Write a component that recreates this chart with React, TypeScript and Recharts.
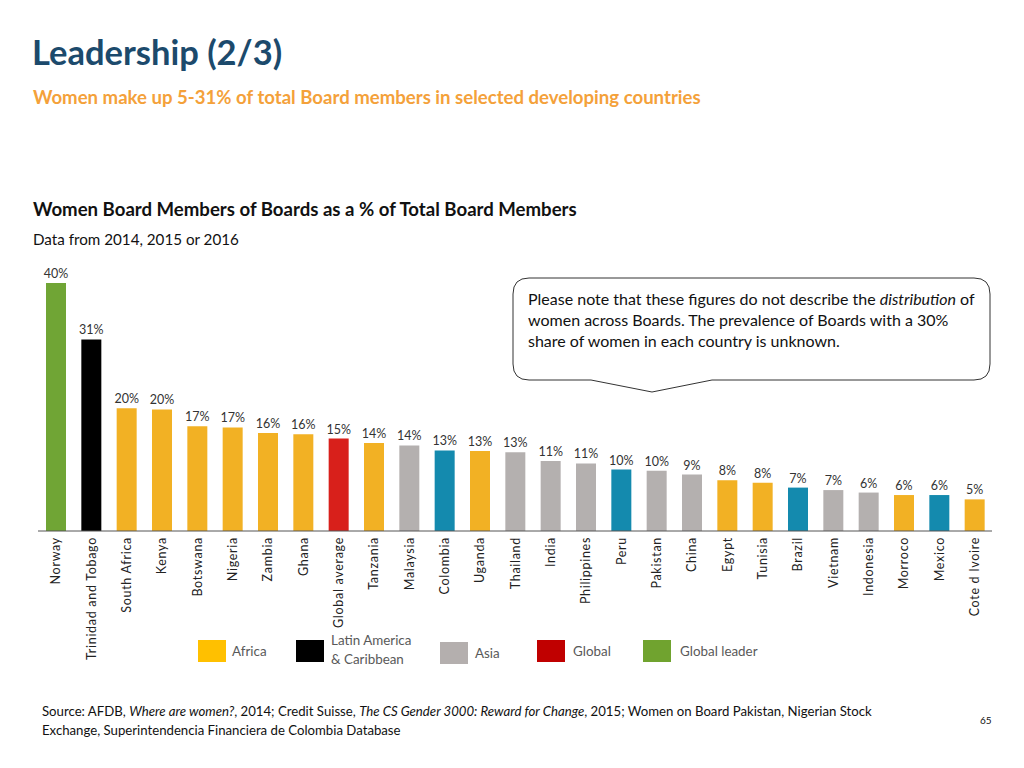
import React from "react";
import { BarChart, Bar, XAxis, YAxis, Cell, LabelList } from "recharts";

const countries = [
  "Norway", "Trinidad and Tobago", "South Africa", "Kenya", "Botswana", "Nigeria",
  "Zambia", "Ghana", "Global average", "Tanzania", "Malaysia", "Colombia", "Uganda",
  "Thailand", "India", "Philippines", "Peru", "Pakistan", "China", "Egypt", "Tunisia",
  "Brazil", "Vietnam", "Indonesia", "Morroco", "Mexico", "Cote d Ivoire",
];
const shares = [
  40, 30.9, 19.8, 19.6, 16.9, 16.7, 15.8, 15.6, 14.9, 14.2, 13.8, 13.0, 12.9,
  12.7, 11.3, 10.9, 9.9, 9.7, 9.1, 8.2, 7.8, 7.0, 6.6, 6.2, 5.8, 5.8, 5.1,
];
const regions = [
  "leader", "latam", "africa", "africa", "africa", "africa", "africa", "africa", "global",
  "africa", "asia", "latamBlue", "africa", "asia", "asia", "asia", "latamBlue", "asia",
  "asia", "africa", "africa", "latamBlue", "asia", "asia", "africa", "latamBlue", "africa",
];
const barColors: Record<string, string> = {
  leader: "#70A535",
  latam: "#000000",
  africa: "#F2B124",
  global: "#D8201B",
  asia: "#B4B0AF",
  latamBlue: "#148AAE",
};
const legendLabels = [["Africa"], ["Latin America", "& Caribbean"], ["Asia"], ["Global"], ["Global leader"]];
const legendColors = ["#FFC000", "#000000", "#B4AFAE", "#C00000", "#70A32F"];
const yTicks = [0, 10, 20, 30, 40];

const data = countries.map((c, i) => ({ name: c, value: shares[i], region: regions[i] }));

const FONT = "Lato, 'Open Sans', sans-serif";

const CountryTick = (props: any) => {
  const { x, y, payload } = props;
  return (
    <g transform={`translate(${x},${y})`}>
      <text
        x={2}
        y={0}
        dy={4.5}
        transform="rotate(-90)"
        textAnchor="end"
        fontSize={12.5}
        letterSpacing={0.7}
        fill="#222"
        fontFamily={FONT}
      >
        {payload.value}
      </text>
    </g>
  );
};

const legendX = [198, 296, 440, 537, 643];
const legendY = [640, 640, 642, 640, 640];
const legendTextX = [232, 331, 475, 573, 680];

export default function App() {
  return (
    <div
      style={{
        position: "absolute",
        left: 0,
        top: 0,
        width: 1024,
        height: 768,
        background: "#fff",
        fontFamily: FONT,
        overflow: "hidden",
      }}
    >
      <div style={{ position: "absolute", left: 0, top: 0 }}>
        <BarChart
          width={1024}
          height={768}
          data={data}
          margin={{ top: 283, right: 32, left: 38, bottom: 107 }}
          barSize={20}
        >
          <YAxis hide domain={[0, 40]} ticks={yTicks} />
          <XAxis
            dataKey="name"
            interval={0}
            height={130}
            tickLine={false}
            axisLine={{ stroke: "#555", strokeWidth: 1 }}
            tick={<CountryTick />}
          />
          <Bar dataKey="value" isAnimationActive={false}>
            {data.map((d, i) => (
              <Cell key={i} fill={barColors[d.region]} />
            ))}
            <LabelList
              dataKey="value"
              position="top"
              offset={5}
              formatter={(v: any) => `${Math.round(Number(v))}%`}
              style={{ fontSize: 12.5, fill: "#333", fontFamily: FONT }}
            />
          </Bar>
        </BarChart>
      </div>
      <svg
        width={1024}
        height={768}
        style={{ position: "absolute", left: 0, top: 0, pointerEvents: "none" }}
        fontFamily={FONT}
      >
        <text x={32} y={65} fontSize={34.5} fontWeight={700} fill="#1C4A6C">
          Leadership (2/3)
        </text>
        <text x={33} y={104} fontSize={18.6} fontWeight={700} fill="#F4A13A">
          Women make up 5-31% of total Board members in selected developing countries
        </text>
        <text x={33} y={216} fontSize={18.6} fontWeight={700} fill="#111">
          Women Board Members of Boards as a % of Total Board Members
        </text>
        <text x={33} y={245} fontSize={15.2} fill="#111">
          Data from 2014, 2015 or 2016
        </text>

        <path
          d="M 529 278 H 974 Q 990 278 990 294 V 364 Q 990 380 974 380 H 712 L 652 392 L 591 380 H 529 Q 513 380 513 364 V 294 Q 513 278 529 278 Z"
          fill="#fff"
          stroke="#333"
          strokeWidth={1}
        />
        <text x={528} y={305} fontSize={16} fill="#111">
          Please note that these figures do not describe the <tspan fontStyle="italic">distribution</tspan> of
        </text>
        <text x={528} y={326} fontSize={16} fill="#111">
          women across Boards. The prevalence of Boards with a 30%
        </text>
        <text x={528} y={347} fontSize={16} fill="#111">
          share of women in each country is unknown.
        </text>

        {legendLabels.map((lines, i) => (
          <g key={i}>
            <rect x={legendX[i]} y={legendY[i]} width={28} height={22} fill={legendColors[i]} />
            {lines.length === 1 ? (
              <text x={legendTextX[i]} y={legendY[i] + 16} fontSize={13.4} fill="#595959">
                {lines[0]}
              </text>
            ) : (
              <>
                <text x={legendTextX[i]} y={645} fontSize={13.4} fill="#595959">
                  {lines[0]}
                </text>
                <text x={legendTextX[i]} y={664} fontSize={13.4} fill="#595959">
                  {lines[1]}
                </text>
              </>
            )}
          </g>
        ))}

        <text x={42} y={716} fontSize={13.2} fill="#111">
          Source: AFDB, <tspan fontStyle="italic">Where are women?</tspan>, 2014; Credit Suisse,{" "}
          <tspan fontStyle="italic">The CS Gender 3000: Reward for Change</tspan>, 2015; Women on Board Pakistan, Nigerian Stock
        </text>
        <text x={42} y={735} fontSize={13.2} fill="#111">
          Exchange, Superintendencia Financiera de Colombia Database
        </text>
        <text x={980} y={724} fontSize={10} fill="#111">
          65
        </text>
      </svg>
    </div>
  );
}
